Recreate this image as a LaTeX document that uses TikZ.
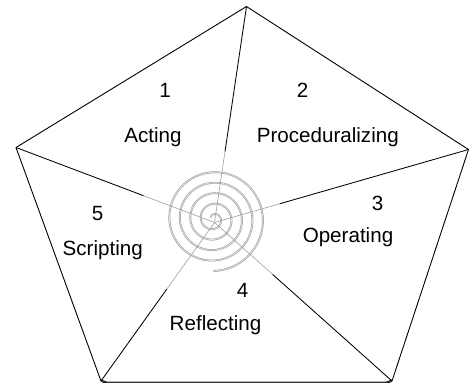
\documentclass[tikz,border=0pt]{standalone}
\usepackage{fontspec}
\setmainfont{Liberation Sans}
\usetikzlibrary{calc}
\begin{document}
\begin{tikzpicture}[x=1pt,y=-1pt,
  edge/.style={line width=0.9pt,black},
  spokeout/.style={line width=0.85pt,black},
  spokein/.style={line width=0.6pt,gray!75},
  coil/.style={draw=gray!75,double=gray!25,line width=0.55pt,double distance=0.8pt},
  lbl/.style={inner sep=0pt,anchor=base,font=\fontsize{20.6}{24}\selectfont}]
\useasboundingbox (0,0) rectangle (469,386);
% corners of the pentagon and the hub of the spokes
\coordinate (vt) at (246.5,6.5);
\coordinate (vr) at (468.5,149.5);
\coordinate (vbr) at (392,381);
\coordinate (vbl) at (101,381);
\coordinate (vl) at (16,147.5);
\coordinate (hub) at (214.5,222.5);
% outline
\draw[edge,line join=round] (vt) -- (vr) -- (vbr) [rounded corners=3pt] -- ($(vbr)+(0,1.5)$) -- ($(vbl)+(0,1.5)$) [sharp corners] -- (vbl) -- (vl) -- cycle;
\draw[line width=1.3pt,gray!40!black,rounded corners=3pt] ($(vbr)+(-1,-1)$) -- ($(vbr)+(-4,1.3)$) -- ($(vbl)+(4,1.3)$) -- ($(vbl)+(1,-1)$);
% spiral, opening clockwise from the middle
\draw[coil] plot[domain=210:1890,samples=500,smooth]
  ({213.5+(52-0.0291667*(1890-\x))*cos(\x)},{219+(52-0.0291667*(1890-\x))*sin(\x)});
% spokes: grey near the hub, black further out
\foreach \v/\d in {vt/72,vr/68,vbr/78,vbl/82,vl/76}{
  \draw[spokein] (hub) -- ($(hub)!\d pt!(\v)$);
  \draw[spokeout] ($(hub)!\d pt!(\v)$) -- (\v);
}
% labels
\node[lbl] (n1) at (165,97.3) {1};
\node[lbl] (t1) at (153,142.7) {Acting};
\node[lbl] (n2) at (302.7,97.3) {2};
\node[lbl] (t2) at (327.8,142.7) {Proceduralizing};
\node[lbl] (n3) at (377.7,210) {3};
\node[lbl] (t3) at (348,242.7) {Operating};
\node[lbl] (n4) at (242.7,297.7) {4};
\node[lbl] (t4) at (215.5,330) {Reflecting};
\node[lbl] (n5) at (97.7,220) {5};
\node[lbl] (t5) at (102.7,255) {Scripting};
\end{tikzpicture}
\end{document}
